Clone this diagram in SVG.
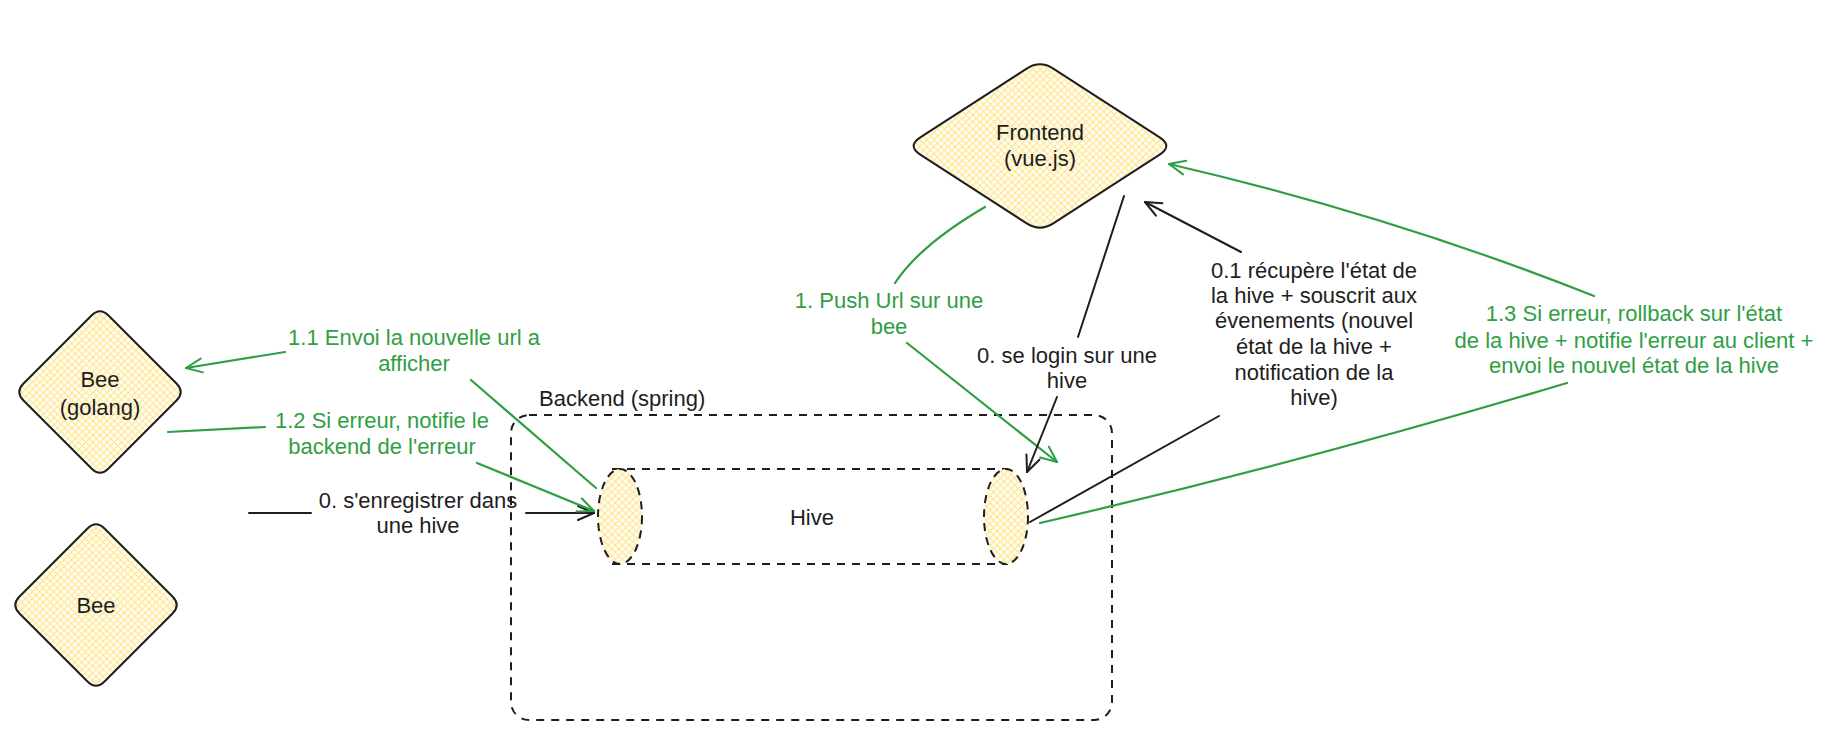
<svg xmlns="http://www.w3.org/2000/svg" width="1848" height="732" viewBox="0 0 1848 732">
<style>
text{font-family:"Liberation Sans","DejaVu Sans",sans-serif;font-size:22px;text-anchor:middle}
.k{fill:#1e1e1e}
.g{fill:#2f9e44}
.node{fill:url(#hatch);stroke:#1e1e1e;stroke-width:2}
.dash{fill:none;stroke:#1e1e1e;stroke-width:2;stroke-dasharray:8 7}
.cb{fill:none;stroke:#1e1e1e;stroke-width:2;stroke-linecap:round}
.cg{fill:none;stroke:#2f9e44;stroke-width:2.2;stroke-linecap:round}
</style>
<defs>
<pattern id="hatch" patternUnits="userSpaceOnUse" width="5" height="5" patternTransform="rotate(45)">
<rect width="5" height="5" fill="#fffdf2"/>
<path d="M0,0.5 H5 M0.5,0 V5" stroke="#ffe58a" stroke-width="1.1"/>
</pattern>
<marker id="ab" viewBox="0 0 20 20" refX="18" refY="10" markerWidth="20" markerHeight="20" markerUnits="userSpaceOnUse" orient="auto">
<path d="M2,3 L18,10 L2,17" fill="none" stroke="#1e1e1e" stroke-width="2" stroke-linecap="round" stroke-linejoin="round"/>
</marker>
<marker id="ag" viewBox="0 0 20 20" refX="18" refY="10" markerWidth="20" markerHeight="20" markerUnits="userSpaceOnUse" orient="auto">
<path d="M2,3 L18,10 L2,17" fill="none" stroke="#2f9e44" stroke-width="2" stroke-linecap="round" stroke-linejoin="round"/>
</marker>
</defs>

<g id="backend">
<rect class="dash" x="511" y="415" width="601" height="305" rx="18"/>
<text class="k" x="539" y="406" style="text-anchor:start">Backend (spring)</text>
</g>

<g id="hive">
<path class="dash" d="M612,469 H1008 M612,564 H1008"/>
<ellipse cx="620" cy="516.5" rx="22" ry="47.5" fill="url(#hatch)" stroke="#1e1e1e" stroke-width="2" stroke-dasharray="8 6"/>
<ellipse cx="1006" cy="516.5" rx="22" ry="47.5" fill="url(#hatch)" stroke="#1e1e1e" stroke-width="2" stroke-dasharray="8 6"/>
<text class="k" x="812" y="525">Hive</text>
</g>

<g id="frontend">
<path class="node" transform="translate(1040,146)" d="M-13.3,-77.4 Q0,-86 13.3,-77.4 L119.7,-8.6 Q133,0 119.7,8.6 L13.3,77.4 Q0,86 -13.3,77.4 L-119.7,8.6 Q-133,0 -119.7,-8.6 Z"/>
<text class="k" x="1040" y="140">Frontend</text>
<text class="k" x="1040" y="166">(vue.js)</text>
</g>

<g id="bee-golang">
<path class="node" transform="translate(100,392)" d="M-8.5,-76.5 Q0,-85 8.5,-76.5 L76.5,-8.5 Q85,0 76.5,8.5 L8.5,76.5 Q0,85 -8.5,76.5 L-76.5,8.5 Q-85,0 -76.5,-8.5 Z"/>
<text class="k" x="100" y="387">Bee</text>
<text class="k" x="100" y="415">(golang)</text>
</g>

<g id="bee">
<path class="node" transform="translate(96,605)" d="M-8.5,-76.5 Q0,-85 8.5,-76.5 L76.5,-8.5 Q85,0 76.5,8.5 L8.5,76.5 Q0,85 -8.5,76.5 L-76.5,8.5 Q-85,0 -76.5,-8.5 Z"/>
<text class="k" x="96" y="613">Bee</text>
</g>

<g id="connectors">
<!-- 0. s'enregistrer dans une hive -->
<path class="cb" d="M249,513 L311,513" stroke-width="3"/>
<path class="cb" d="M526,513 L594,513" stroke-width="2.5" marker-end="url(#ab)"/>
<text class="k" x="418" y="508">0. s'enregistrer dans</text>
<text class="k" x="418" y="533">une hive</text>

<!-- 1.1 -->
<path class="cg" d="M596,488 L471,380"/>
<path class="cg" d="M285,352 L186,368" marker-end="url(#ag)"/>
<text class="g" x="414" y="345">1.1 Envoi la nouvelle url a</text>
<text class="g" x="414" y="371">afficher</text>

<!-- 1.2 -->
<path class="cg" d="M168,432 L265,427"/>
<path class="cg" d="M477,463 L594,511" marker-end="url(#ag)"/>
<text class="g" x="382" y="428">1.2 Si erreur, notifie le</text>
<text class="g" x="382" y="454">backend de l'erreur</text>

<!-- 1. Push Url -->
<path class="cg" d="M985,207 Q920,245 895,283"/>
<path class="cg" d="M907,343 L1057,462" marker-end="url(#ag)"/>
<text class="g" x="889" y="308">1. Push Url sur une</text>
<text class="g" x="889" y="334">bee</text>

<!-- 0. se login -->
<path class="cb" d="M1124,196 L1078,337" stroke-width="2.5"/>
<path class="cb" d="M1057,397 L1027,472" marker-end="url(#ab)"/>
<text class="k" x="1067" y="363">0. se login sur une</text>
<text class="k" x="1067" y="388">hive</text>

<!-- 0.1 -->
<path class="cb" d="M1030,522 L1219,416"/>
<path class="cb" d="M1241,252 L1145,202" marker-end="url(#ab)"/>
<text class="k" x="1314" y="278">0.1 récupère l'état de</text>
<text class="k" x="1314" y="303">la hive + souscrit aux</text>
<text class="k" x="1314" y="328">évenements (nouvel</text>
<text class="k" x="1314" y="354">état de la hive +</text>
<text class="k" x="1314" y="380">notification de la</text>
<text class="k" x="1314" y="405">hive)</text>

<!-- 1.3 -->
<path class="cg" d="M1040,523 Q1300,463 1567,383" stroke-width="2.8"/>
<path class="cg" d="M1594,296 Q1390,215 1169,164" marker-end="url(#ag)"/>
<text class="g" x="1634" y="321">1.3 Si erreur, rollback sur l'état</text>
<text class="g" x="1634" y="348">de la hive + notifie l'erreur au client +</text>
<text class="g" x="1634" y="373">envoi le nouvel état de la hive</text>
</g>
</svg>
